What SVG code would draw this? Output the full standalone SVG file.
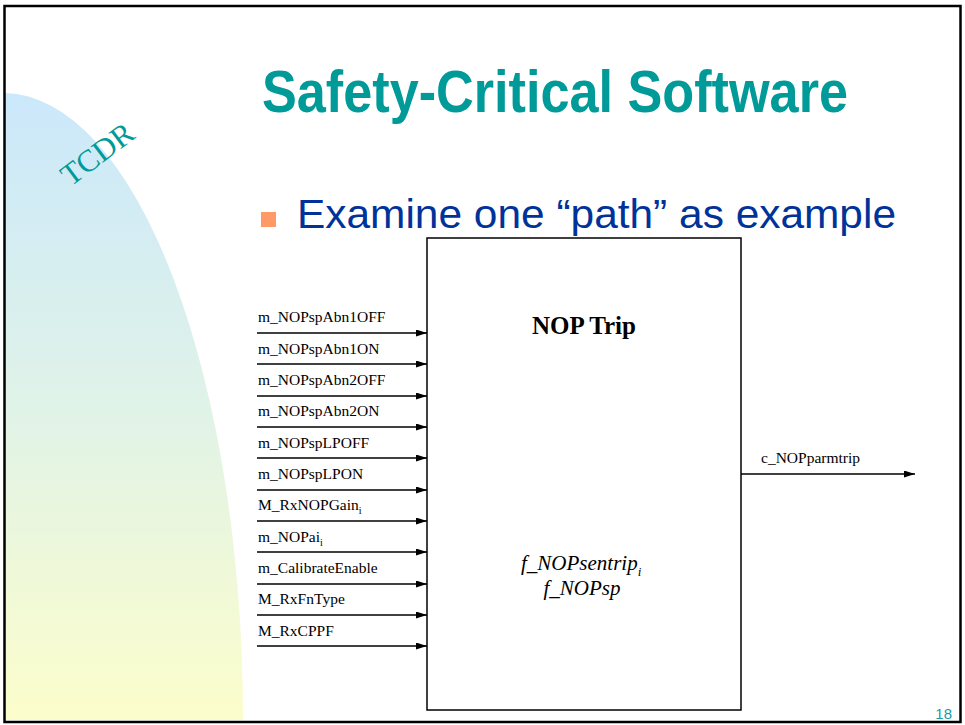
<svg xmlns="http://www.w3.org/2000/svg" width="965" height="725" viewBox="0 0 965 725">
  <defs>
    <linearGradient id="swoosh" x1="0" y1="0" x2="0" y2="1">
      <stop offset="0" stop-color="#cbe8fb"/>
      <stop offset="0.5" stop-color="#e0f3e8"/>
      <stop offset="1" stop-color="#fcfdcb"/>
    </linearGradient>
    <marker id="arrow" viewBox="0 0 11 7" refX="11" refY="3.5" markerWidth="11" markerHeight="7" markerUnits="userSpaceOnUse" orient="auto">
      <path d="M0,0 L11,3.5 L0,7 Z" fill="#000"/>
    </marker>
    <style>
      .sig { font-family: "Liberation Serif", "Times New Roman", serif; font-size: 15.5px; fill: #000; }
      .sub { font-size: 10px; }
      .wire { stroke: #000; stroke-width: 1.5; fill: none; marker-end: url(#arrow); }
    </style>
  </defs>

  <rect x="0" y="0" width="965" height="725" fill="#fff"/>

  <!-- background swoosh -->
  <path d="M5,93 A 240,627 0 0 1 243,720 L5,720 Z" fill="url(#swoosh)"/>
  <text x="98" y="164" transform="rotate(-37 98 155)" text-anchor="middle" font-family="Liberation Serif, serif" font-size="31" fill="#009a99">TCDR</text>

  <!-- slide frame -->
  <rect x="4.5" y="6" width="956" height="716" fill="none" stroke="#000" stroke-width="2.5"/>

  <!-- title and bullet -->
  <text x="262" y="112" font-family="Liberation Sans, Arial, sans-serif" font-weight="bold" font-size="60" fill="#009a99" textLength="586" lengthAdjust="spacingAndGlyphs">Safety-Critical Software</text>
  <rect x="261" y="212" width="15" height="15" fill="#ff9966"/>
  <text x="297" y="228" font-family="Liberation Sans, Arial, sans-serif" font-size="41" fill="#003399" textLength="599" lengthAdjust="spacingAndGlyphs">Examine one “path” as example</text>

  <!-- block -->
  <g id="nop-trip">
    <rect x="427" y="238" width="314" height="472" fill="#fff" stroke="#000" stroke-width="1.5"/>
    <text x="584" y="334" text-anchor="middle" font-family="Liberation Serif, serif" font-weight="bold" font-size="25">NOP Trip</text>
    <text x="521" y="570" font-family="Liberation Serif, serif" font-style="italic" font-size="21">f_NOPsentrip<tspan font-size="13" dy="6">i</tspan></text>
    <text x="582" y="595" text-anchor="middle" font-family="Liberation Serif, serif" font-style="italic" font-size="21">f_NOPsp</text>
  </g>

  <!-- signals -->
  <g id="connectors">
    <line class="wire" x1="257" y1="333" x2="427" y2="333"/>
    <line class="wire" x1="257" y1="364" x2="427" y2="364"/>
    <line class="wire" x1="257" y1="396" x2="427" y2="396"/>
    <line class="wire" x1="257" y1="427" x2="427" y2="427"/>
    <line class="wire" x1="257" y1="458" x2="427" y2="458"/>
    <line class="wire" x1="257" y1="490" x2="427" y2="490"/>
    <line class="wire" x1="257" y1="521" x2="427" y2="521"/>
    <line class="wire" x1="257" y1="552" x2="427" y2="552"/>
    <line class="wire" x1="257" y1="584" x2="427" y2="584"/>
    <line class="wire" x1="257" y1="615" x2="427" y2="615"/>
    <line class="wire" x1="257" y1="646" x2="427" y2="646"/>
    <line class="wire" x1="741" y1="474" x2="915" y2="474"/>
  </g>

  <g id="signal-labels">
    <text class="sig" x="258" y="322">m_NOPspAbn1OFF</text>
    <text class="sig" x="258" y="354">m_NOPspAbn1ON</text>
    <text class="sig" x="258" y="385">m_NOPspAbn2OFF</text>
    <text class="sig" x="258" y="416">m_NOPspAbn2ON</text>
    <text class="sig" x="258" y="448">m_NOPspLPOFF</text>
    <text class="sig" x="258" y="479">m_NOPspLPON</text>
    <text class="sig" x="258" y="510">M_RxNOPGain<tspan class="sub" dy="4">i</tspan></text>
    <text class="sig" x="258" y="542">m_NOPai<tspan class="sub" dy="4">i</tspan></text>
    <text class="sig" x="258" y="573">m_CalibrateEnable</text>
    <text class="sig" x="258" y="604">M_RxFnType</text>
    <text class="sig" x="258" y="636">M_RxCPPF</text>
    <text class="sig" x="761" y="463">c_NOPparmtrip</text>
  </g>

  <!-- page number -->
  <text x="952" y="719" text-anchor="end" font-family="Liberation Sans, Arial, sans-serif" font-size="15" fill="#1a9aa0">18</text>
</svg>
